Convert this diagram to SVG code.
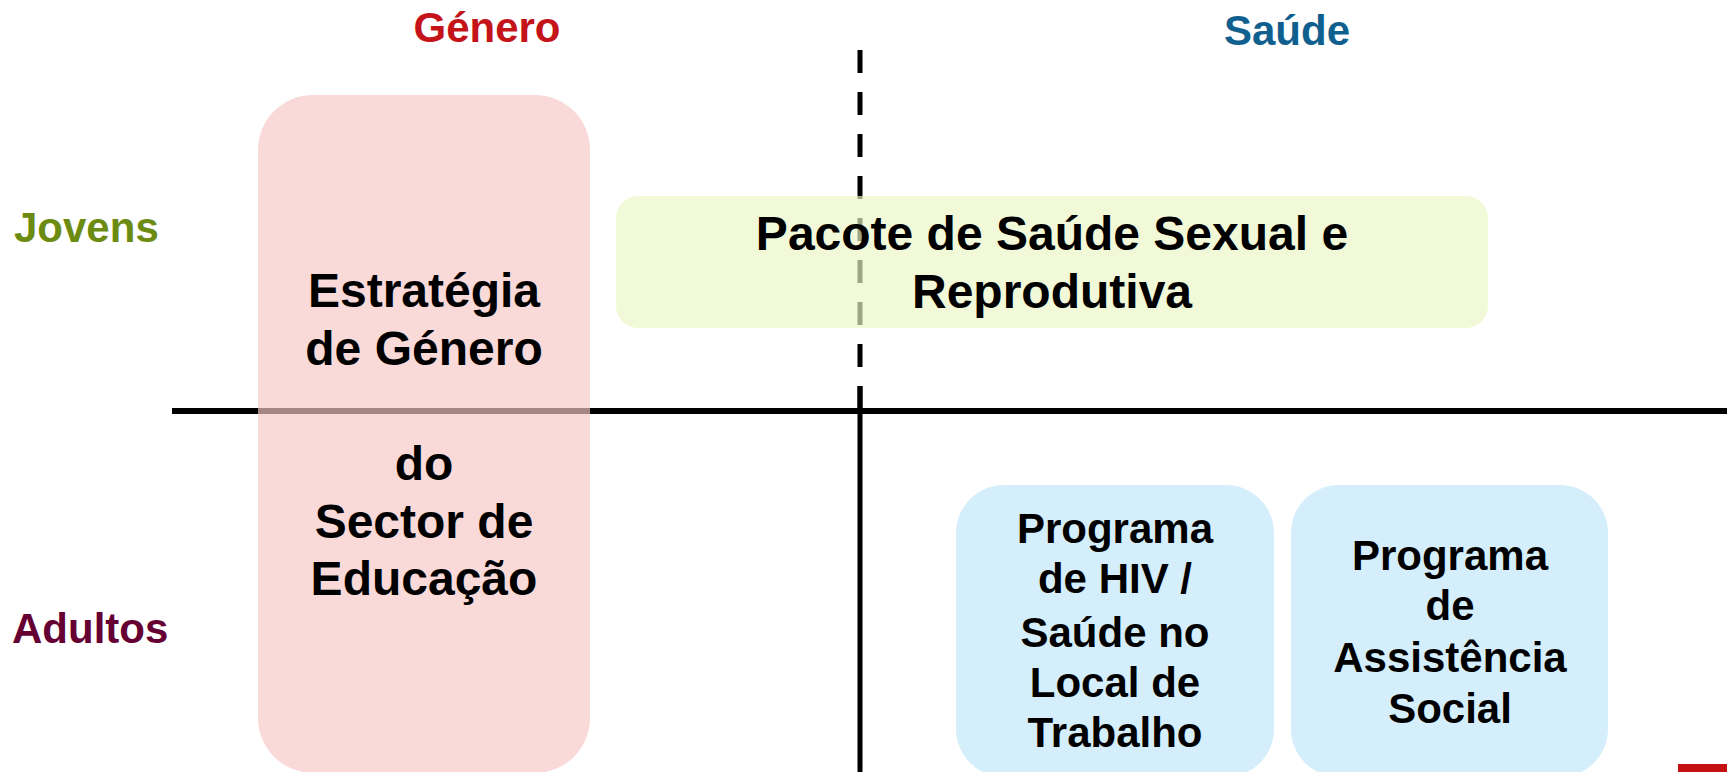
<svg xmlns="http://www.w3.org/2000/svg" width="1727" height="772" viewBox="0 0 1727 772">
<style>
  .lbl { font-family: "Liberation Sans", Arial, sans-serif; font-weight: bold; font-size: 42px; }
  .big { font-family: "Liberation Sans", Arial, sans-serif; font-weight: bold; font-size: 48px; fill: #000; text-anchor: middle; }
  .mid { font-family: "Liberation Sans", Arial, sans-serif; font-weight: bold; font-size: 42px; fill: #000; text-anchor: middle; }
  .axis { stroke: #000; fill: none; }
</style>
<rect width="1727" height="772" fill="#ffffff"/>
<g id="connectors">
  <line class="axis" x1="172" y1="411" x2="1727" y2="411" stroke-width="6"/>
  <line class="axis" x1="860" y1="50" x2="860" y2="409" stroke-width="5" stroke-dasharray="23 19"/>
  <line class="axis" x1="860" y1="386" x2="860" y2="772" stroke-width="5"/>
</g>
<g id="label-genero"><text class="lbl" x="487" y="42" text-anchor="middle" fill="#c4141a">Género</text></g>
<g id="label-saude"><text class="lbl" x="1287" y="45" text-anchor="middle" fill="#0f5f8f">Saúde</text></g>
<g id="label-jovens"><text class="lbl" x="14" y="242" fill="#6b8c10">Jovens</text></g>
<g id="label-adultos"><text class="lbl" x="12" y="643" fill="#660033">Adultos</text></g>
<g id="node-estrategia">
  <rect x="258" y="95" width="332" height="678" rx="55" ry="55" fill="#f8c6c6" fill-opacity="0.67"/>
  <text class="big" x="424" y="307">Estratégia</text>
  <text class="big" x="424" y="365">de Género</text>
  <text class="big" x="424" y="480">do</text>
  <text class="big" x="424" y="538">Sector de</text>
  <text class="big" x="424" y="595">Educação</text>
</g>
<g id="node-pacote">
  <rect x="616" y="196" width="872" height="132" rx="22" ry="22" fill="#ecf6c6" fill-opacity="0.67"/>
  <text class="big" x="1052" y="250">Pacote de Saúde Sexual e</text>
  <text class="big" x="1052" y="308">Reprodutiva</text>
</g>
<g id="node-hiv">
  <rect x="956" y="485" width="318" height="292" rx="48" ry="48" fill="#d4eefb"/>
  <text class="mid" x="1115" y="543">Programa</text>
  <text class="mid" x="1115" y="593">de HIV /</text>
  <text class="mid" x="1115" y="647">Saúde no</text>
  <text class="mid" x="1115" y="697">Local de</text>
  <text class="mid" x="1115" y="747">Trabalho</text>
</g>
<g id="node-assistencia">
  <rect x="1291" y="485" width="317" height="292" rx="48" ry="48" fill="#d4eefb"/>
  <text class="mid" x="1450" y="570">Programa</text>
  <text class="mid" x="1450" y="620">de</text>
  <text class="mid" x="1450" y="672">Assistência</text>
  <text class="mid" x="1450" y="723">Social</text>
</g>
<rect x="1678" y="764" width="49" height="8" fill="#c41010"/>
</svg>
